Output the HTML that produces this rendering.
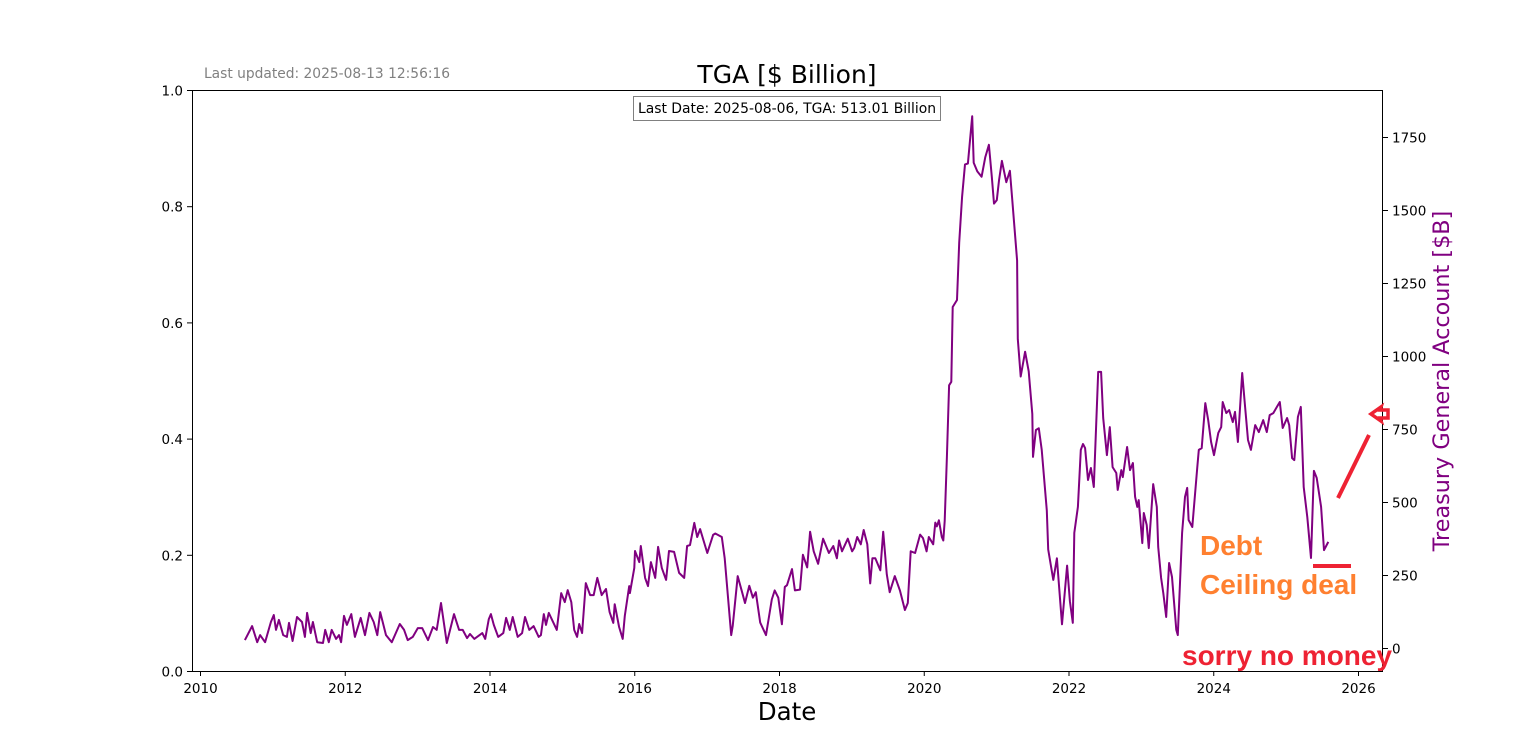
<!DOCTYPE html>
<html><head><meta charset="utf-8"><style>
body{margin:0;background:#fff;}
svg{display:block;font-family:"DejaVu Sans","Liberation Sans",sans-serif;}
</style></head><body>
<svg id="chart" width="1536" height="754" xmlns="http://www.w3.org/2000/svg">
<text x="204" y="78" font-size="13.8" fill="#808080">Last updated: 2025-08-13 12:56:16</text>
<text x="787" y="83" font-size="25" text-anchor="middle">TGA [$ Billion]</text>
<rect x="192.5" y="90.5" width="1190" height="581" fill="none" stroke="#000" stroke-width="1"/>
<g id="xticks"></g>
<g id="lticks"></g>
<g id="rticks"></g>
<polyline id="line" fill="none" stroke="#800080" stroke-width="2" stroke-linejoin="round"/>
<rect x="633.5" y="96.5" width="307" height="24" fill="#fff" stroke="#808080" stroke-width="1"/>
<text x="787" y="113" font-size="13.9" text-anchor="middle">Last Date: 2025-08-06, TGA: 513.01 Billion</text>
<text x="787" y="720" font-size="24.5" text-anchor="middle">Date</text>
<text transform="translate(1449,381) rotate(-90)" font-size="22.3" fill="#800080" text-anchor="middle">Treasury General Account [$B]</text>
<text x="1200" y="555" font-size="28" font-weight="bold" fill="#ff8030" font-family="Liberation Sans,sans-serif">Debt</text>
<text x="1200" y="594" font-size="28" font-weight="bold" fill="#ff8030" font-family="Liberation Sans,sans-serif">Ceiling deal</text>
<text x="1182" y="665" font-size="28" font-weight="bold" fill="#ee2233" font-family="Liberation Sans,sans-serif">sorry no money</text>
<line x1="1313" y1="566" x2="1351" y2="566" stroke="#ee2233" stroke-width="4"/>
<line x1="1338" y1="498" x2="1369" y2="435" stroke="#ee2233" stroke-width="4"/>
<path d="M1388,410 L1380,410 L1381,407 L1371,414 L1381,421 L1380,418 L1388,418 Z" fill="none" stroke="#ee2233" stroke-width="3.5"/>
</svg>
<script>
const years=[2010.62,2010.72,2010.79,2010.83,2010.90,2010.98,2011.02,2011.05,2011.09,2011.15,2011.20,2011.23,2011.28,2011.34,2011.41,2011.45,2011.48,2011.53,2011.56,2011.62,2011.70,2011.73,2011.78,2011.82,2011.88,2011.92,2011.95,2011.99,2012.03,2012.09,2012.14,2012.22,2012.28,2012.34,2012.40,2012.45,2012.49,2012.57,2012.65,2012.76,2012.82,2012.87,2012.94,2013.01,2013.07,2013.15,2013.22,2013.27,2013.33,2013.41,2013.51,2013.58,2013.63,2013.69,2013.73,2013.79,2013.90,2013.94,2013.99,2014.02,2014.06,2014.12,2014.19,2014.23,2014.28,2014.32,2014.39,2014.45,2014.49,2014.55,2014.61,2014.68,2014.71,2014.75,2014.78,2014.82,2014.93,2014.99,2015.04,2015.08,2015.13,2015.17,2015.21,2015.24,2015.28,2015.33,2015.39,2015.44,2015.49,2015.55,2015.61,2015.66,2015.71,2015.73,2015.79,2015.84,2015.87,2015.93,2015.94,2016.00,2016.01,2016.07,2016.09,2016.15,2016.19,2016.23,2016.29,2016.33,2016.38,2016.44,2016.48,2016.55,2016.62,2016.69,2016.73,2016.77,2016.83,2016.87,2016.91,
2017.01,2017.09,2017.12,2017.21,2017.25,2017.34,2017.36,2017.43,2017.49,2017.53,2017.59,2017.64,2017.68,2017.74,2017.82,2017.90,2017.94,2017.99,2018.04,2018.08,2018.11,2018.18,2018.22,2018.29,2018.33,2018.39,2018.43,2018.48,2018.54,2018.61,2018.69,2018.75,2018.80,2018.83,2018.87,2018.95,2019.01,2019.04,2019.08,2019.13,2019.17,2019.22,2019.26,2019.29,2019.33,2019.40,2019.44,2019.49,2019.53,2019.60,2019.67,2019.74,2019.78,2019.82,2019.88,2019.95,2019.99,2020.04,2020.07,2020.13,2020.16,2020.18,2020.21,2020.25,2020.27,2020.29,2020.32,2020.35,2020.38,2020.40,2020.46,2020.49,2020.53,2020.57,2020.61,2020.67,2020.69,2020.74,2020.80,2020.85,2020.90,2020.94,2020.97,2021.01,2021.04,2021.08,2021.14,2021.19,2021.22,2021.29,2021.30,2021.34,2021.40,2021.45,2021.50,2021.51,2021.55,2021.59,2021.63,2021.70,2021.72,2021.79,2021.84,2021.91,2021.98,
2022.02,2022.06,2022.08,2022.13,2022.17,2022.20,2022.23,2022.27,2022.31,2022.35,2022.41,2022.45,2022.48,2022.53,2022.57,2022.61,2022.66,2022.68,2022.73,2022.75,2022.81,2022.85,2022.89,2022.92,2022.95,2022.97,2023.02,2023.04,2023.08,2023.11,2023.17,2023.22,2023.24,2023.28,2023.31,2023.35,2023.39,2023.43,2023.49,2023.51,2023.57,2023.61,2023.64,2023.66,2023.71,2023.73,2023.78,2023.80,2023.84,2023.89,2023.93,2023.97,2024.01,2024.07,2024.11,2024.13,2024.18,2024.22,2024.27,2024.30,2024.34,2024.40,2024.44,2024.48,2024.52,2024.58,2024.63,2024.69,2024.74,2024.78,2024.83,2024.88,2024.92,2024.96,2025.02,2025.05,2025.09,2025.12,2025.17,2025.21,2025.25,2025.30,2025.35,2025.39,2025.43,2025.49,2025.53,2025.59];
const tga=[27,75,20,44,20,89,113,62,96,44,38,86,24,106,89,38,120,51,89,20,17,62,20,62,31,44,20,110,79,116,38,103,44,120,89,44,123,44,20,82,62,27,38,68,68,27,72,62,154,17,116,62,62,34,48,31,51,31,99,116,79,38,51,103,62,106,38,51,106,62,75,38,44,116,79,120,62,188,157,198,157,62,38,82,51,222,181,181,240,181,202,123,86,150,72,31,110,212,188,274,332,294,349,240,212,294,240,346,274,233,332,329,257,240,349,352,428,380,407,325,387,
392,380,307,44,75,246,191,154,213,172,191,87,44,166,197,172,81,209,215,270,197,200,319,276,398,331,288,374,325,349,307,368,331,374,331,343,380,355,404,355,221,307,307,266,398,252,191,246,197,130,154,331,325,388,376,331,380,355,429,416,437,380,368,435,654,899,911,1167,1191,1387,1545,1655,1658,1820,1661,1631,1613,1680,1722,1613,1521,1533,1600,1667,1594,1633,1545,1326,1057,929,1014,947,801,654,746,752,679,471,337,233,307,81,282,160,86,
394,483,678,698,684,575,616,551,945,945,787,660,756,619,599,541,609,585,688,609,633,517,483,506,359,462,421,342,561,483,346,240,188,106,291,243,62,44,394,517,548,438,414,472,619,678,684,838,780,705,660,736,756,842,804,814,773,808,705,941,825,712,678,763,739,780,739,797,804,825,842,753,787,763,650,643,791,825,551,448,308,606,582,483,335,363,294,424];
const xTicks=[2010,2012,2014,2016,2018,2020,2022,2024,2026];
const leftTicks=[0.0,0.2,0.4,0.6,0.8,1.0];
const rightTicks=[0,250,500,750,1000,1250,1500,1750];
const NS="http://www.w3.org/2000/svg";
const X=y=>200+(y-2010)*72.375;
const YR=v=>648-v*0.2922;
const YL=f=>671-f*581;
function mk(tag,attrs,parent,txt){const e=document.createElementNS(NS,tag);for(const k in attrs)e.setAttribute(k,attrs[k]);if(txt!==undefined)e.textContent=txt;parent.appendChild(e);return e;}
const gx=document.getElementById('xticks'),gl=document.getElementById('lticks'),gr=document.getElementById('rticks');
xTicks.forEach(t=>{const x=X(t)+0.5;
 const l=mk('line',{x1:x,x2:x,y1:671,y2:676,stroke:'#000'},gx);
 
 
 const s=mk('text',{x:x,y:693,'font-size':13.5,'text-anchor':'middle'},gx,String(t));
 
 });
leftTicks.forEach(t=>{const y=YL(t)+0.5;
 const l=mk('line',{x1:187,x2:192,y1:y,y2:y,stroke:'#000'},gl);
 
 
 const s=mk('text',{x:183,y:y+5,'font-size':13.5,'text-anchor':'end'},gl,t.toFixed(1));
 
 });
rightTicks.forEach(t=>{const y=Math.round(YR(t))+0.5;
 const l=mk('line',{x1:1383,x2:1388,y1:y,y2:y,stroke:'#000'},gr);
 
 
 const s=mk('text',{x:1392,y:y+5,'font-size':13.5},gr,String(t));
 
 });
document.getElementById('line').setAttribute('points',years.map((y,i)=>X(y).toFixed(1)+','+YR(tga[i]).toFixed(1)).join(' '));
</script>
</body></html>
